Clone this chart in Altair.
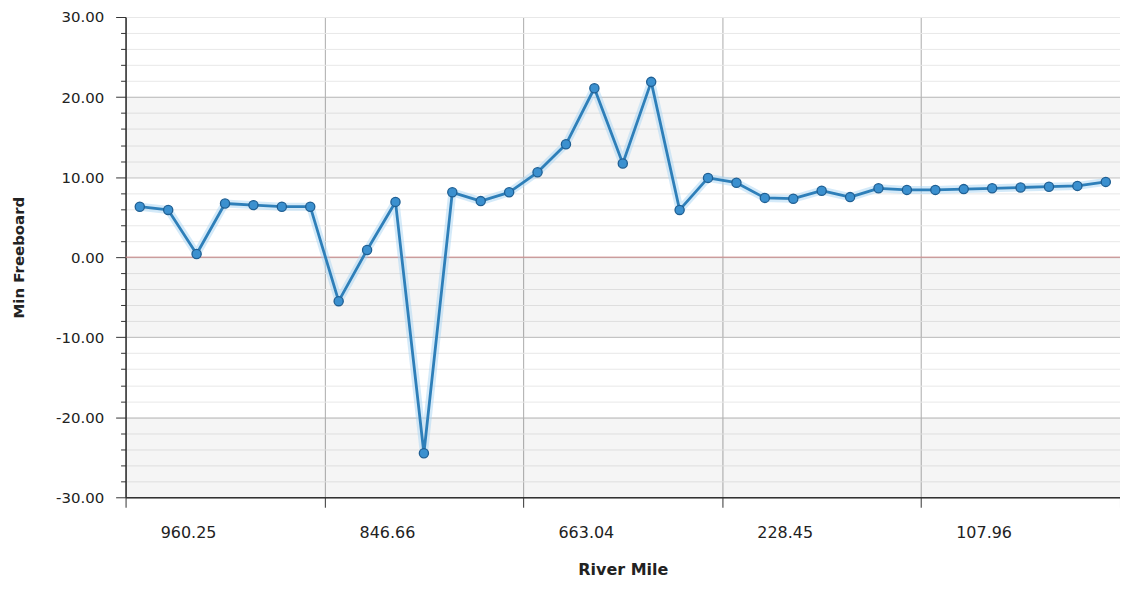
import altair as alt
import pandas as pd

# ---- data ----
freeboard = [6.3, 5.9, 0.4, 6.7, 6.5, 6.3, 6.3,
             -5.5, 0.9, 6.9, -24.5, 8.1, 7.0, 8.1,
             10.6, 14.1, 21.1, 11.7, 21.9, 5.9, 9.9,
             9.3, 7.4, 7.3, 8.3, 7.5, 8.6, 8.4,
             8.4, 8.5, 8.6, 8.7, 8.8, 8.9, 9.4]
point_idx = list(range(len(freeboard)))
group_labels = ["960.25", "846.66", "663.04", "228.45", "107.96"]
label_pos = [1.7, 8.7, 15.7, 22.7, 29.7]
group_edges = [-0.5, 6.5, 13.5, 20.5, 27.5, 34.5]
band_lo = [10, -10, -30]
band_hi = [20, 0, -20]
y_ticks = list(range(-30, 31, 2))
zero_line = [0]

FONT = "DejaVu Sans"

df = pd.DataFrame({"idx": point_idx, "val": freeboard})
bands = pd.DataFrame({"lo": band_lo, "hi": band_hi,
                      "x0": [group_edges[0]] * len(band_lo),
                      "x1": [group_edges[-1]] * len(band_lo)})
zero = pd.DataFrame({"z": zero_line})

lab_arr = "[" + ",".join(f"'{s}'" for s in group_labels) + "]"
edge_test = "abs(datum.value % 1) == 0.5"

x_scale = alt.Scale(domain=[group_edges[0], group_edges[-1]], nice=False, zero=False)
y_scale = alt.Scale(domain=[-30, 30], nice=False, zero=False)

x_axis = alt.Axis(
    values=group_edges + label_pos,
    labelExpr=f"{edge_test} ? '' : {lab_arr}[round((datum.value - {label_pos[0]}) / 7)]",
    labelOverlap=False,
    labelFlush=False,
    tickOpacity={"condition": {"test": edge_test, "value": 1}, "value": 0},
    gridOpacity={"condition": {"test": edge_test, "value": 1}, "value": 0},
    gridColor={"condition": {"test": f"datum.value == {group_edges[-1]}", "value": "#d0d0d0"},
               "value": "#ababab"},
    tickSize=10,
    tickColor="#333333",
    domainColor="#333333",
    domainWidth=1.5,
    labelPadding=17,
    labelFont=FONT,
    labelFontSize=16,
    labelColor="#222222",
    title="River Mile",
    titleFont=FONT,
    titleFontSize=16,
    titleFontWeight="bold",
    titleColor="#222222",
    titlePadding=21,
)

y_axis = alt.Axis(
    values=y_ticks,
    labelExpr="datum.value % 10 == 0 ? (datum.value < 0 ? '-' : '') + format(abs(datum.value), '.2f') : ''",
    labelOverlap=False,
    labelFlush=False,
    tickSize={"condition": {"test": "datum.value % 10 == 0", "value": 10}, "value": 5},
    gridColor={"condition": {"test": "datum.value % 10 == 0 && datum.value < 30", "value": "#bcbcbc"},
               "value": "#e8e8e8"},
    tickColor="#333333",
    domainColor="#333333",
    domainWidth=1.5,
    labelPadding=12,
    labelFont=FONT,
    labelFontSize=15,
    labelColor="#222222",
    title="Min Freeboard",
    titleFont=FONT,
    titleFontSize=15,
    titleFontWeight="bold",
    titleColor="#222222",
    titleX=-102,
    titleBaseline="alphabetic",
)

band_layer = alt.Chart(bands).mark_rect(color="#000000", opacity=0.04).encode(
    x=alt.X("x0:Q", scale=x_scale, axis=x_axis, title="River Mile"),
    x2="x1:Q",
    y=alt.Y("lo:Q", scale=y_scale, axis=y_axis, title="Min Freeboard"),
    y2="hi:Q",
)

zero_layer = alt.Chart(zero).mark_rule(color="#cf8a8a", strokeWidth=1).encode(
    y=alt.Y("z:Q", scale=y_scale, axis=y_axis, title="Min Freeboard"),
)

base = alt.Chart(df).encode(
    x=alt.X("idx:Q", scale=x_scale, axis=x_axis, title="River Mile"),
    y=alt.Y("val:Q", scale=y_scale, axis=y_axis, title="Min Freeboard"),
)

glow = base.mark_line(color="#a9d6f3", strokeWidth=8, opacity=0.5, strokeJoin="round")
line = base.mark_line(color="#2e7fb9", strokeWidth=2.8, strokeJoin="round")
pts = base.mark_point(filled=True, size=85, fill="#3b90cf", stroke="#1f5f93",
                      strokeWidth=1.3, opacity=1)

chart = alt.layer(band_layer, zero_layer, glow, line, pts).properties(
    width=998,
    height=482,
    autosize=alt.AutoSizeParams(type="none"),
    padding={"left": 118, "top": 8, "right": 0, "bottom": 90},
).configure_view(stroke=None).configure(background="white")

chart.save("out.html", embed_options={"renderer": "svg", "actions": False})
